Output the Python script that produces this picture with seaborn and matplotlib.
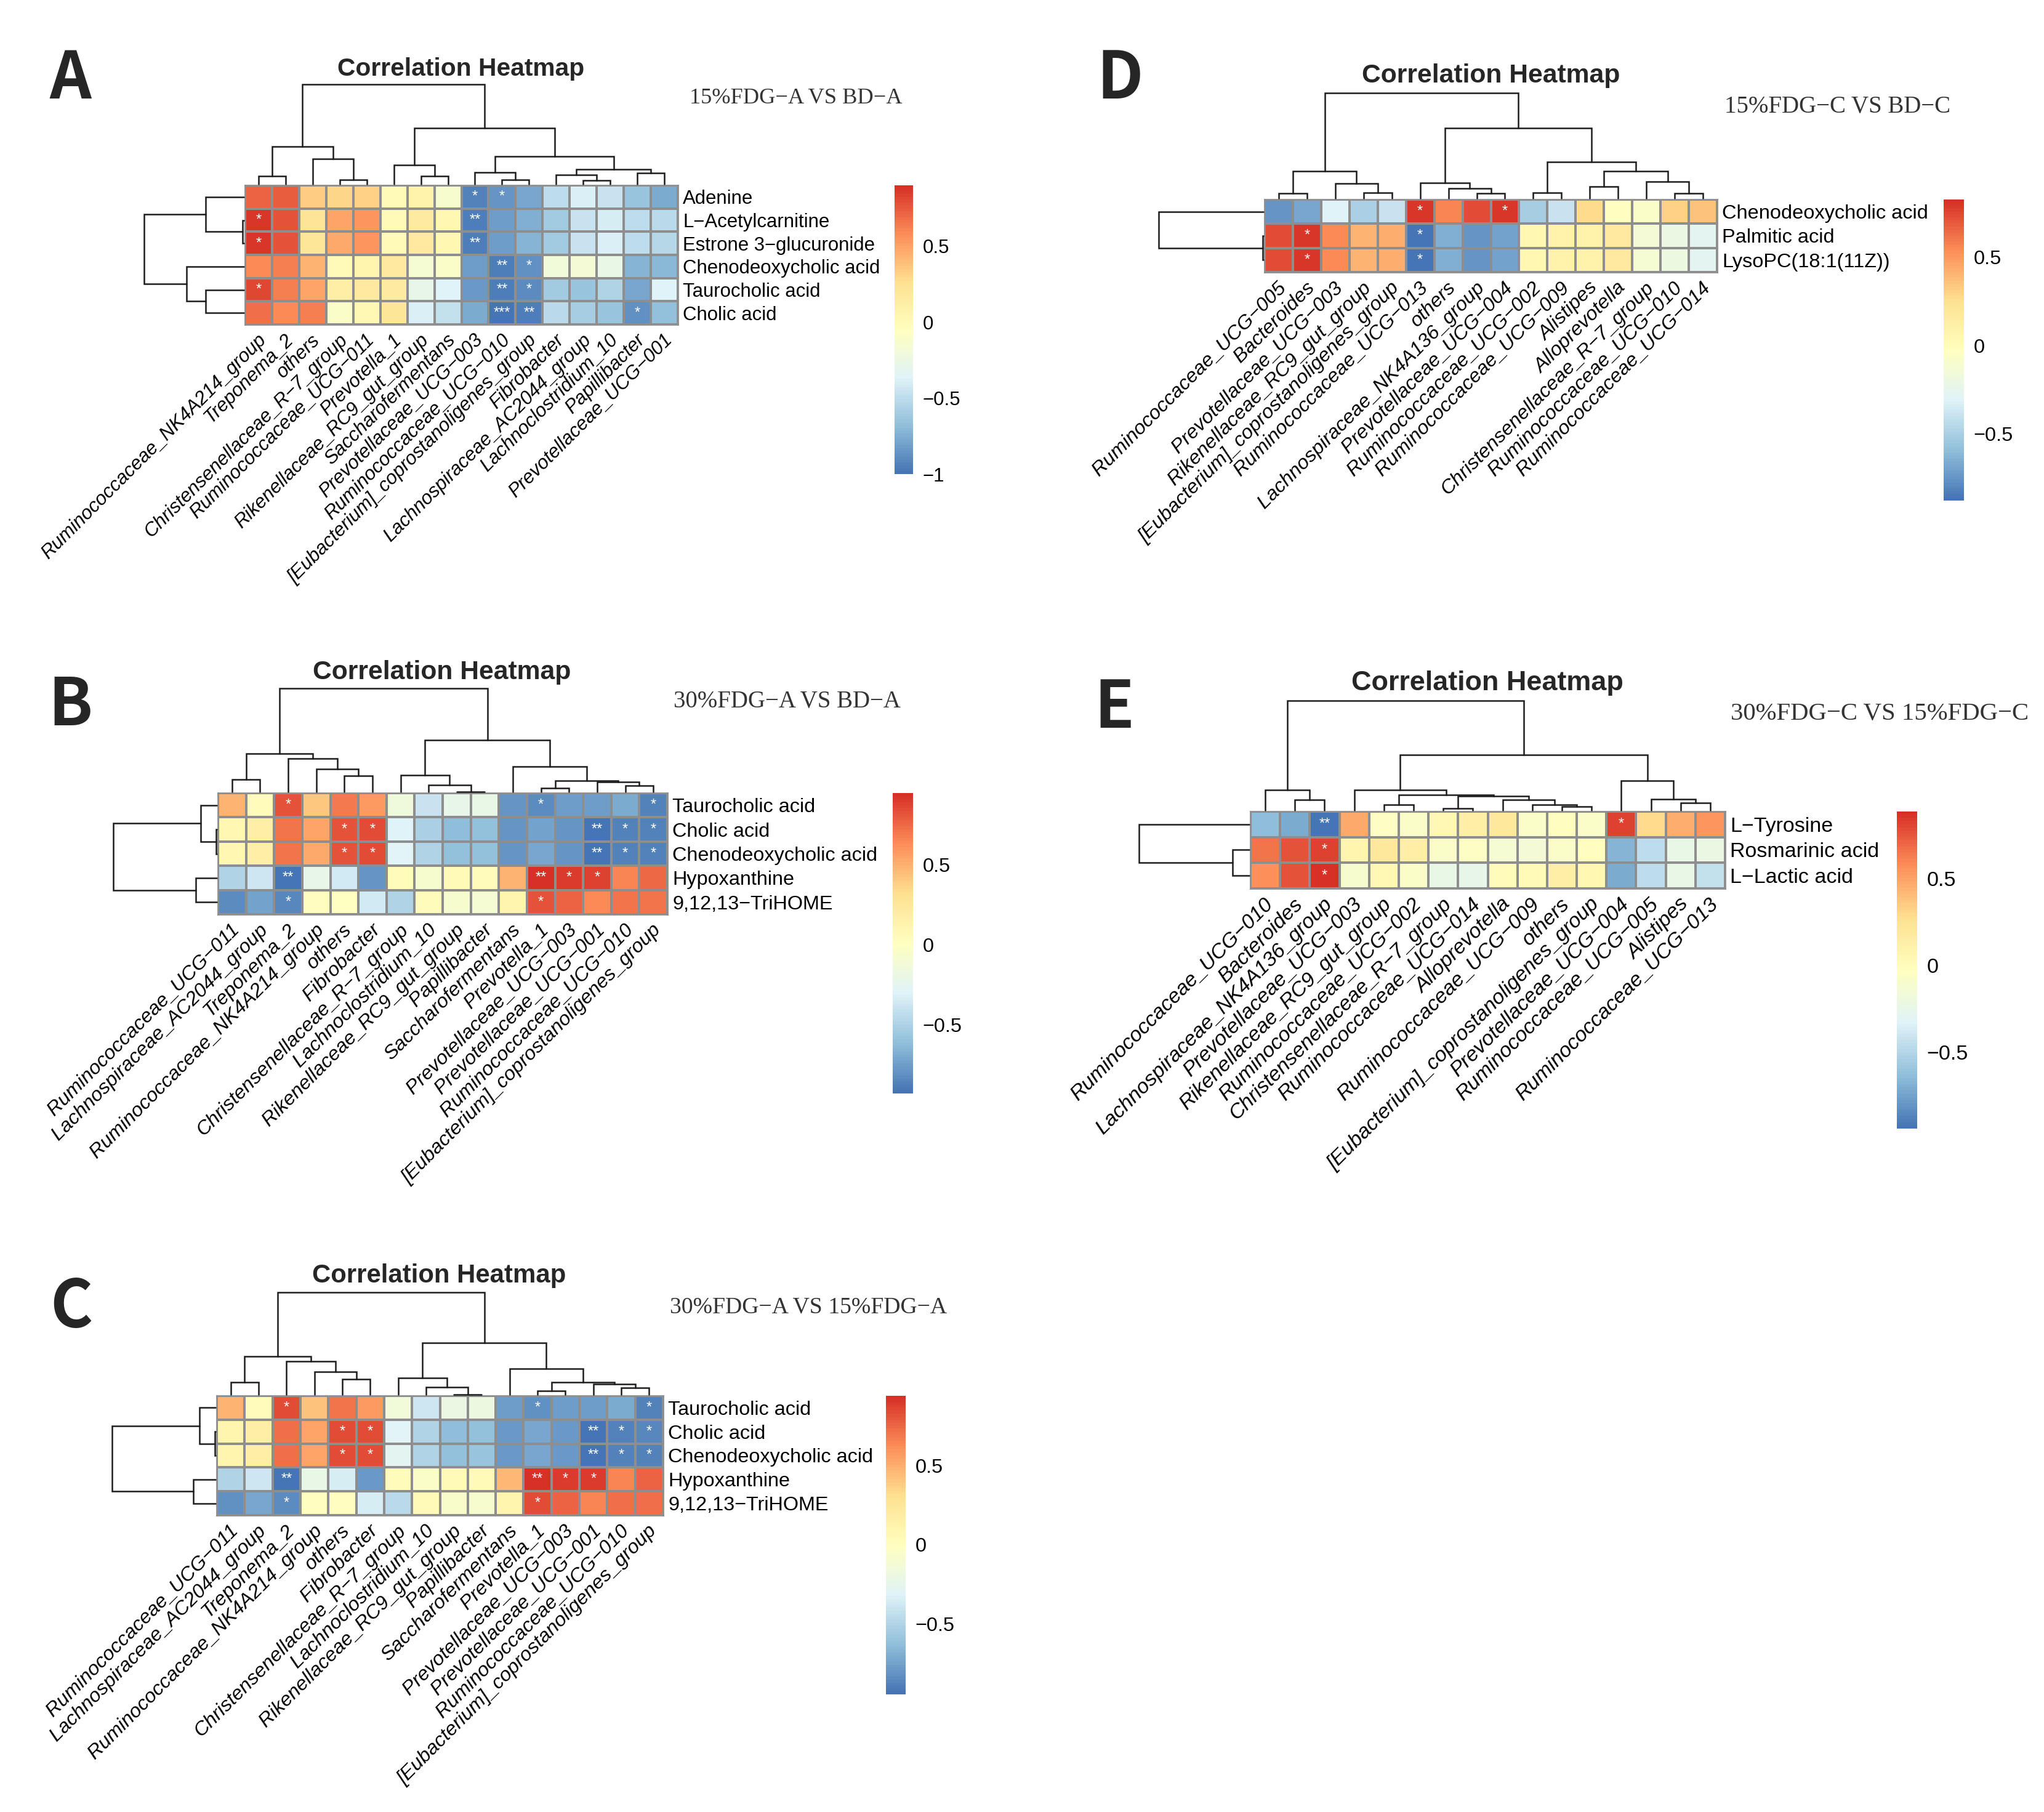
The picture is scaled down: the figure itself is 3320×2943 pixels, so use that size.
import matplotlib
matplotlib.use("Agg")
import matplotlib.pyplot as plt
from matplotlib.colors import LinearSegmentedColormap
from matplotlib.transforms import ScaledTranslation
import numpy as np
import seaborn as sns

sns.set_theme(style="white")
plt.rcParams["font.family"] = ["Liberation Sans", "DejaVu Sans"]

W, H = 3320, 2943
TITLE = "Correlation Heatmap"

# pheatmap default palette
cmap = LinearSegmentedColormap.from_list(
    "rdylbu", ["#4575B4", "#91BFDB", "#E0F3F8", "#FFFFBF", "#FEE090", "#FC8D59", "#D73027"], N=100)

# ---- panel A
rows_a = ["Adenine", "L−Acetylcarnitine", "Estrone 3−glucuronide",
          "Chenodeoxycholic acid", "Taurocholic acid", "Cholic acid"]
cols_a = ["Ruminococcaceae_NK4A214_group", "Treponema_2", "others", "Christensenellaceae_R−7_group",
          "Ruminococcaceae_UCG−011", "Prevotella_1", "Rikenellaceae_RC9_gut_group", "Saccharofermentans",
          "Prevotellaceae_UCG−003", "Ruminococcaceae_UCG−010", "[Eubacterium]_coprostanoligenes_group",
          "Fibrobacter", "Lachnospiraceae_AC2044_group", "Lachnoclostridium_10", "Papillibacter",
          "Prevotellaceae_UCG−001"]
vals_a = [
    [0.72, 0.73, 0.33, 0.30, 0.32, 0.00, 0.07, -0.13, -0.93, -0.85, -0.78, -0.50, -0.38, -0.46, -0.64, -0.76],
    [0.88, 0.78, 0.22, 0.50, 0.55, 0.00, 0.15, 0.03, -0.95, -0.82, -0.74, -0.62, -0.46, -0.40, -0.50, -0.52],
    [0.87, 0.78, 0.20, 0.48, 0.55, 0.00, 0.16, 0.03, -0.95, -0.81, -0.73, -0.62, -0.46, -0.39, -0.50, -0.54],
    [0.58, 0.63, 0.43, 0.00, 0.06, 0.17, -0.15, -0.10, -0.82, -0.95, -0.88, -0.20, -0.17, -0.27, -0.72, -0.70],
    [0.82, 0.62, 0.50, 0.12, 0.17, 0.14, -0.28, -0.37, -0.83, -0.96, -0.90, -0.62, -0.64, -0.55, -0.78, -0.37],
    [0.68, 0.58, 0.63, -0.10, 0.02, 0.20, -0.38, -0.48, -0.77, -1.00, -0.95, -0.52, -0.60, -0.65, -0.87, -0.67],
]
stars_a = {(0, 8): "*", (0, 9): "*", (1, 0): "*", (1, 8): "**", (2, 0): "*", (2, 8): "**",
           (3, 9): "**", (3, 10): "*", (4, 0): "*", (4, 9): "**", (4, 10): "*",
           (5, 9): "***", (5, 10): "**", (5, 14): "*"}
# (distance, left, right), ints are leaves
coltree_a = (286, (108, (23, 0, 1), (73, 2, (13, 3, 4))),
             (160, (55, 5, (23, 6, 7)),
              (80, (33, 8, (13, 9, 10)), (43, (26, 11, (10, 12, 13)), (31, 14, 15)))))
rowtree_a = (171, (65, 0, (2, 1, 2)), (98, 3, (65, 4, 5)))
ticks_a = [0.5, 0, -0.5, -1]

# ---- panel B
rows_b = ["Taurocholic acid", "Cholic acid", "Chenodeoxycholic acid", "Hypoxanthine", "9,12,13−TriHOME"]
cols_b = ["Ruminococcaceae_UCG−011", "Lachnospiraceae_AC2044_group", "Treponema_2",
          "Ruminococcaceae_NK4A214_group", "others", "Fibrobacter", "Christensenellaceae_R−7_group",
          "Lachnoclostridium_10", "Rikenellaceae_RC9_gut_group", "Papillibacter", "Saccharofermentans",
          "Prevotella_1", "Prevotellaceae_UCG−003", "Prevotellaceae_UCG−001", "Ruminococcaceae_UCG−010",
          "[Eubacterium]_coprostanoligenes_group"]
vals_b = [
    [0.48, 0.03, 0.83, 0.42, 0.70, 0.59, -0.15, -0.39, -0.22, -0.20, -0.78, -0.83, -0.76, -0.76, -0.70, -0.87],
    [0.10, 0.17, 0.72, 0.54, 0.83, 0.84, -0.30, -0.50, -0.62, -0.61, -0.78, -0.73, -0.78, -0.93, -0.86, -0.87],
    [0.10, 0.17, 0.72, 0.53, 0.83, 0.84, -0.29, -0.49, -0.60, -0.60, -0.78, -0.72, -0.78, -0.93, -0.86, -0.87],
    [-0.49, -0.38, -0.93, -0.22, -0.36, -0.79, 0.03, -0.07, 0.05, 0.03, 0.48, 0.94, 0.90, 0.89, 0.66, 0.76],
    [-0.82, -0.73, -0.85, 0.01, 0.00, -0.36, -0.48, 0.04, -0.07, -0.09, 0.11, 0.83, 0.77, 0.64, 0.71, 0.71],
]
stars_b = {(0, 2): "*", (0, 11): "*", (0, 15): "*",
           (1, 4): "*", (1, 5): "*", (1, 13): "**", (1, 14): "*", (1, 15): "*",
           (2, 4): "*", (2, 5): "*", (2, 13): "**", (2, 14): "*", (2, 15): "*",
           (3, 2): "**", (3, 11): "**", (3, 12): "*", (3, 13): "*", (4, 2): "*", (4, 11): "*"}
coltree_b = (296, (110, (36, 0, 1), (95, 2, (65, 3, (45, 4, 5)))),
             (148, (48, 6, (20, 7, (0.5, 8, 9))),
              (72, 10, (32, (10, 11, 12), (28, 13, (18, 14, 15))))))
rowtree_b = (178, (28, 0, (1, 1, 2)), (36, 3, 4))
ticks_b = [0.5, 0, -0.5]

# ---- panel C
vals_c = [
    [0.47, 0.03, 0.83, 0.42, 0.70, 0.58, -0.14, -0.38, -0.20, -0.19, -0.77, -0.82, -0.77, -0.76, -0.71, -0.88],
    [0.10, 0.16, 0.72, 0.53, 0.83, 0.84, -0.29, -0.50, -0.63, -0.62, -0.78, -0.73, -0.78, -0.94, -0.87, -0.86],
    [0.10, 0.16, 0.72, 0.53, 0.83, 0.84, -0.28, -0.50, -0.61, -0.60, -0.78, -0.73, -0.78, -0.94, -0.87, -0.87],
    [-0.50, -0.38, -0.94, -0.22, -0.36, -0.79, 0.03, -0.05, 0.05, 0.04, 0.46, 0.94, 0.90, 0.89, 0.65, 0.76],
    [-0.82, -0.73, -0.85, 0.01, 0.00, -0.35, -0.47, 0.04, -0.06, -0.08, 0.10, 0.83, 0.77, 0.64, 0.72, 0.72],
]
coltree_c = (293, (110, (36, 0, 1), (96, 2, (65, 3, (45, 4, 5)))),
             (148, (48, 6, (21, 7, (0.5, 8, 9))),
              (75, 10, (35, (11, 11, 12), (30, 13, (20, 14, 15))))))
rowtree_c = (178, (28, 0, (1, 1, 2)), (38, 3, 4))

# ---- panel D
rows_d = ["Chenodeoxycholic acid", "Palmitic acid", "LysoPC(18:1(11Z))"]
cols_d = ["Ruminococcaceae_UCG−005", "Bacteroides", "Prevotellaceae_UCG−003", "Rikenellaceae_RC9_gut_group",
          "[Eubacterium]_coprostanoligenes_group", "Ruminococcaceae_UCG−013", "others",
          "Lachnospiraceae_NK4A136_group", "Prevotellaceae_UCG−004", "Ruminococcaceae_UCG−002",
          "Ruminococcaceae_UCG−009", "Alistipes", "Alloprevotella", "Christensenellaceae_R−7_group",
          "Ruminococcaceae_UCG−010", "Ruminococcaceae_UCG−014"]
vals_d = [
    [-0.75, -0.68, -0.31, -0.50, -0.39, 0.80, 0.56, 0.73, 0.80, -0.52, -0.39, 0.28, -0.01, -0.07, 0.30, 0.36],
    [0.73, 0.80, 0.55, 0.41, 0.42, -0.87, -0.65, -0.75, -0.70, 0.05, 0.08, 0.09, 0.17, -0.13, -0.20, -0.28],
    [0.73, 0.80, 0.54, 0.41, 0.42, -0.87, -0.64, -0.75, -0.70, 0.05, 0.08, 0.09, 0.17, -0.12, -0.19, -0.28],
]
stars_d = {(0, 5): "*", (0, 8): "*", (1, 1): "*", (1, 5): "*", (2, 1): "*", (2, 5): "*"}
coltree_d = (319, (82, (14, 0, 1), (44, 2, (17, 3, 4))),
             (212, (47, 5, (29, 6, (14, 7, 8))),
              (110, (17, 9, 10), (82, (35, 11, 12), (50, 13, (14, 14, 15))))))
rowtree_d = (172, 0, (1, 1, 2))
ticks_d = [0.5, 0, -0.5]

# ---- panel E
rows_e = ["L−Tyrosine", "Rosmarinic acid", "L−Lactic acid"]
cols_e = ["Ruminococcaceae_UCG−010", "Bacteroides", "Lachnospiraceae_NK4A136_group", "Prevotellaceae_UCG−003",
          "Rikenellaceae_RC9_gut_group", "Ruminococcaceae_UCG−002", "Christensenellaceae_R−7_group",
          "Ruminococcaceae_UCG−014", "Alloprevotella", "Ruminococcaceae_UCG−009", "others",
          "[Eubacterium]_coprostanoligenes_group", "Prevotellaceae_UCG−004", "Ruminococcaceae_UCG−005",
          "Alistipes", "Ruminococcaceae_UCG−013"]
vals_e = [
    [-0.63, -0.72, -0.93, 0.47, -0.06, -0.07, 0.03, 0.12, 0.20, -0.08, -0.01, -0.08, 0.83, 0.30, 0.45, 0.55],
    [0.66, 0.76, 0.83, 0.07, 0.20, 0.13, -0.08, -0.06, -0.12, -0.15, -0.08, -0.01, -0.68, -0.45, -0.24, -0.22],
    [0.56, 0.76, 0.87, -0.10, 0.03, -0.08, -0.24, -0.26, 0.00, 0.02, 0.12, 0.06, -0.71, -0.45, -0.24, -0.44],
]
stars_e = {(0, 2): "**", (0, 12): "*", (1, 2): "*", (2, 2): "*"}
coltree_e = (314, (58, 0, (30, 1, 2)),
             (158, (58, 3, (44, (16, 4, 5), (40, (6, 6, 7), (30, 8, (16, 9, (10, 10, 11)))))),
              (85, 12, (32, 13, (22, 14, 15)))))
rowtree_e = (181, 0, (27, 1, 2))
ticks_e = [0.5, 0, -0.5]

# letter, subtitle, data, colour range and where things sit, in pixels of the final image
panels = [
    dict(letter="A", sub="15%FDG−A VS BD−A", rows=rows_a, cols=cols_a, vals=vals_a, stars=stars_a,
         coltree=coltree_a, rowtree=rowtree_a, ticks=ticks_a, vmin=-1.0, vmax=0.9,
         heat=(398, 301, 1101, 527), top=137, left=234, cbar=(1453, 1483, 770),
         title_xy=(749, 112), letter_xy=(114, 129), sub_xy=(1120, 159),
         fs=22.4, title_fs=29.3, sub_fs=26.2),
    dict(letter="B", sub="30%FDG−A VS BD−A", rows=rows_b, cols=cols_b, vals=vals_b, stars=stars_b,
         coltree=coltree_b, rowtree=rowtree_b, ticks=ticks_b, vmin=-0.93, vmax=0.95,
         heat=(354, 1288, 1084, 1485), top=1118, left=184, cbar=(1450, 1483, 1776),
         title_xy=(718, 1092), letter_xy=(114, 1147), sub_xy=(1094, 1139),
         fs=23.3, title_fs=30.7, sub_fs=28),
    dict(letter="C", sub="30%FDG−A VS 15%FDG−A", rows=rows_b, cols=cols_b, vals=vals_c, stars=stars_b,
         coltree=coltree_c, rowtree=rowtree_c, ticks=ticks_b, vmin=-0.945, vmax=0.94,
         heat=(352, 2267, 1077, 2461), top=2099, left=182, cbar=(1439, 1471, 2752),
         title_xy=(713, 2072), letter_xy=(116, 2125), sub_xy=(1088, 2123),
         fs=23.3, title_fs=30.2, sub_fs=27.2),
    dict(letter="D", sub="15%FDG−C VS BD−C", rows=rows_d, cols=cols_d, vals=vals_d, stars=stars_d,
         coltree=coltree_d, rowtree=rowtree_d, ticks=ticks_d, vmin=-0.878, vmax=0.826,
         heat=(2054, 324, 2789, 442), top=151, left=1882, cbar=(3157, 3190, 813),
         title_xy=(2422, 123), letter_xy=(1819, 129), sub_xy=(2801, 174),
         fs=23.4, title_fs=30.7, sub_fs=28),
    dict(letter="E", sub="30%FDG−C VS 15%FDG−C", rows=rows_e, cols=cols_e, vals=vals_e, stars=stars_e,
         coltree=coltree_e, rowtree=rowtree_e, ticks=ticks_e, vmin=-0.94, vmax=0.887,
         heat=(2031, 1318, 2802, 1443), top=1138, left=1850, cbar=(3081, 3114, 1833),
         title_xy=(2416, 1109), letter_xy=(1810, 1151), sub_xy=(2811, 1160),
         fs=24.5, title_fs=32.4, sub_fs=29.3),
]


def px_axes(fig, x0, y0, x1, y1):
    return fig.add_axes([x0 / W, 1 - y1 / H, (x1 - x0) / W, (y1 - y0) / H])


def walk(node, draw):
    # returns (leaf position, height) of a node and draws its bracket
    if isinstance(node, int):
        return node + 0.5, 0
    h, a, b = node
    pa, ha = walk(a, draw)
    pb, hb = walk(b, draw)
    draw([pa, pa, pb, pb], [ha, h, h, hb])
    return (pa + pb) / 2, h


def draw_tree(ax, tree, n, vertical):
    if vertical:
        ax.set_xlim(0, n)
        ax.set_ylim(0, tree[0])
        draw = lambda p, h: ax.plot(p, h, color="#1c1c1c", lw=1.8, clip_on=False, solid_joinstyle="miter")
    else:
        ax.set_ylim(n, 0)
        ax.set_xlim(tree[0], 0)
        draw = lambda p, h: ax.plot(h, p, color="#1c1c1c", lw=1.8, clip_on=False, solid_joinstyle="miter")
    walk(tree, draw)
    ax.axis("off")


fig = plt.figure(figsize=(W / 100, H / 100), dpi=100, facecolor="white")
# column labels sit a little right of the cell centre
label_shift = ScaledTranslation(8 / 100, 0, fig.dpi_scale_trans)

for p in panels:
    x0, y0, x1, y1 = p["heat"]
    ax = px_axes(fig, x0, y0, x1, y1)
    cax = px_axes(fig, p["cbar"][0], y0, p["cbar"][1], p["cbar"][2])
    vals = np.array(p["vals"])
    annot = np.full(vals.shape, "", dtype=object)
    for pos, s in p["stars"].items():
        annot[pos] = s

    sns.heatmap(vals, ax=ax, cbar_ax=cax, cmap=cmap, vmin=p["vmin"], vmax=p["vmax"],
                linewidths=1.5, linecolor="#8e8e8e", annot=annot, fmt="",
                annot_kws={"color": "white", "fontsize": 17},
                xticklabels=p["cols"], yticklabels=p["rows"])
    for s in ax.spines.values():
        s.set_visible(True)
        s.set_color("#8e8e8e")
        s.set_linewidth(2)

    fs = p["fs"]
    ax.yaxis.tick_right()
    ax.tick_params(axis="y", length=0, pad=6, labelsize=fs, labelcolor="black", labelrotation=0)
    ax.tick_params(axis="x", length=0, pad=15, labelsize=fs, labelcolor="black")
    for t in ax.get_xticklabels():
        t.set_rotation(45)
        t.set_ha("right")
        t.set_va("center")
        t.set_rotation_mode("anchor")
        t.set_style("italic")
        t.set_transform(t.get_transform() + label_shift)

    cax.set_yticks(p["ticks"])
    cax.set_yticklabels([f"{t:g}".replace("-", "−") for t in p["ticks"]])
    cax.tick_params(length=0, pad=11, labelsize=fs, labelcolor="black")

    draw_tree(px_axes(fig, x0, p["top"], x1, y0 - 2), p["coltree"], len(p["cols"]), True)
    draw_tree(px_axes(fig, p["left"], y0, x0 - 2, y1), p["rowtree"], len(p["rows"]), False)

    fig.text(p["title_xy"][0] / W, 1 - p["title_xy"][1] / H, TITLE, fontsize=p["title_fs"],
             fontweight="bold", ha="center", va="center")
    fig.text(p["letter_xy"][0] / W, 1 - p["letter_xy"][1] / H, p["letter"], fontsize=76,
             family="Noto Sans CJK SC", fontweight="bold", ha="center", va="center")
    fig.text(p["sub_xy"][0] / W, 1 - p["sub_xy"][1] / H, p["sub"], fontsize=p["sub_fs"],
             family="Liberation Serif", color="#333333", ha="left", va="center")

fig.savefig("out.png", dpi=100)
